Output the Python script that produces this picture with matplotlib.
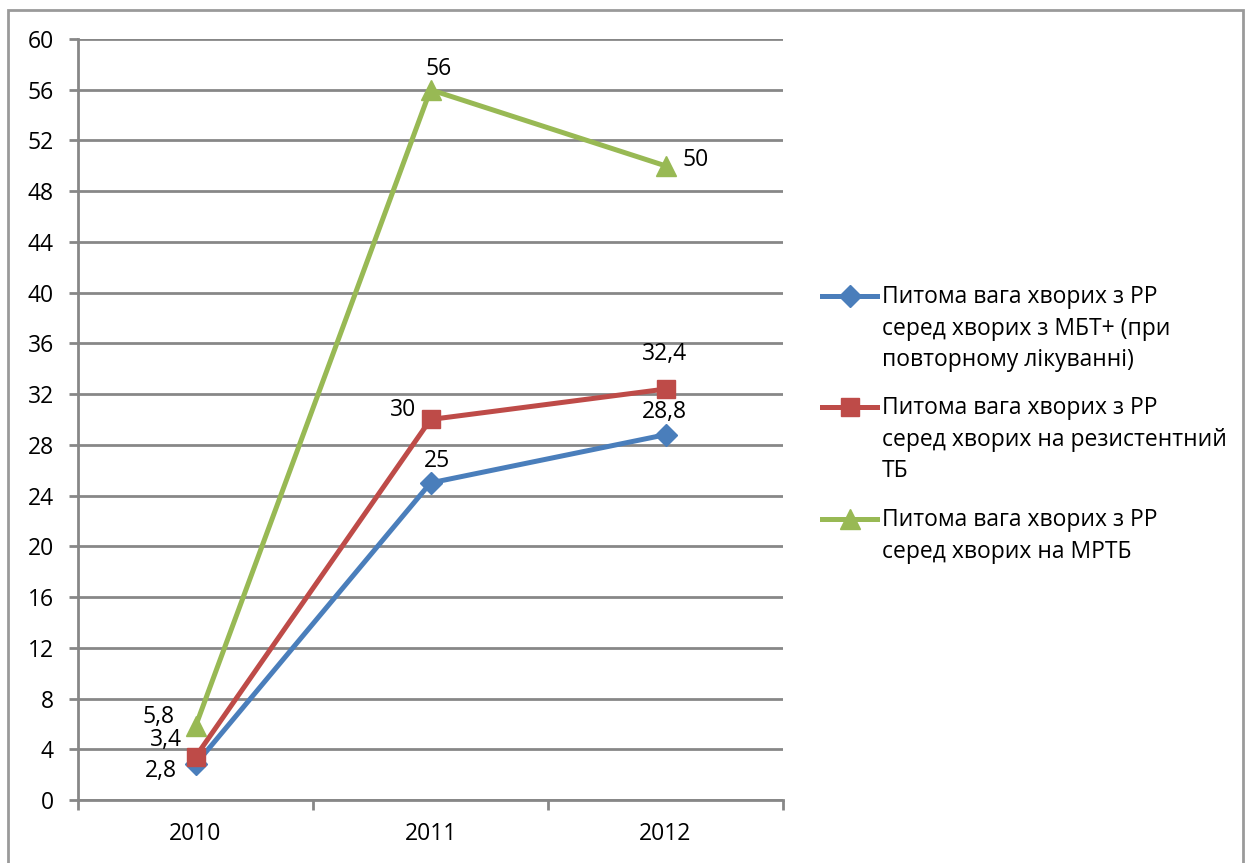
import matplotlib

matplotlib.use("Agg")
import matplotlib.pyplot as plt
from matplotlib.lines import Line2D
from matplotlib.patches import Rectangle

plt.rcParams["font.family"] = ["Open Sans", "DejaVu Sans"]

years = ["2010", "2011", "2012"]
mbt_plus = [2.8, 25, 28.8]
resistant = [3.4, 30, 32.4]
mdr = [5.8, 56, 50]
labels_mbt = ["2,8", "25", "28,8"]
labels_res = ["3,4", "30", "32,4"]
labels_mdr = ["5,8", "56", "50"]
legend_labels = [
    "Питома вага хворих з РР\nсеред хворих з МБТ+ (при\nповторному лікуванні)",
    "Питома вага хворих з РР\nсеред хворих на резистентний\nТБ",
    "Питома вага хворих з РР\nсеред хворих на МРТБ",
]

_BLUE = "#4a7ebb"
_RED = "#be4b48"
_GREEN = "#98b954"
_GRID = "#878787"
_FS = 16.5

W, H = 1247, 863
fig = plt.figure(figsize=(W / 100, H / 100), dpi=100, facecolor="white")
ax = fig.add_axes([78 / W, 63 / H, 705 / W, 761 / H])

x = range(len(years))
series = [
    (mbt_plus, labels_mbt, _BLUE, "D", 11, [(-25, -5), (5, 16), (-1, 16)]),
    (resistant, labels_res, _RED, "s", 13, [(-21, 12), (-20, 7), (-1, 25)]),
    (mdr, labels_mdr, _GREEN, "^", 14, [(-27, 7), (6, 15), (22, 4)]),
]
for vals, labs, col, mk, ms, offs in series:
    ax.plot(x, vals, color=col, lw=3.6, marker=mk, ms=ms, mec=col, mfc=col, zorder=3)
    for xi, v, lab, off in zip(x, vals, labs, offs):
        ax.annotate(lab, (xi, v), xytext=off, textcoords="offset points",
                    ha="center", va="center", fontsize=_FS, zorder=4)

ax.set_xlim(-0.5, 2.5)
ax.set_ylim(0, 60)
ax.set_yticks(range(0, 61, 4))
ax.set_xticks(list(x))
ax.set_xticklabels(years)
ax.set_xticks([-0.5, 0.5, 1.5, 2.5], minor=True)
ax.tick_params(axis="x", which="major", length=0, pad=16, labelsize=_FS)
ax.tick_params(axis="x", which="minor", length=7, width=2, color=_GRID)
ax.tick_params(axis="y", length=6.5, width=2, color=_GRID, pad=11, labelsize=_FS)
ax.grid(axis="y", color=_GRID, lw=2)
ax.set_axisbelow(True)
for side in ("top", "right"):
    ax.spines[side].set_visible(False)
for side in ("left", "bottom"):
    ax.spines[side].set_color(_GRID)
    ax.spines[side].set_linewidth(2)

# legend drawn by hand so the key sits on the first line of each label
legend_rows = [296, 407, 519]
for (vals, labs, col, mk, ms, offs), label, ypx in zip(series, legend_labels, legend_rows):
    yf = 1 - ypx / H
    fig.add_artist(Line2D([822 / W, 877 / W], [yf, yf], color=col, lw=3.6,
                          transform=fig.transFigure))
    fig.add_artist(Line2D([849.5 / W], [yf], color=col, marker=mk, ms=ms,
                          mec=col, mfc=col, transform=fig.transFigure))
    fig.text(882 / W, 1 - (ypx - 11) / H, label, fontsize=_FS, ha="left", va="top",
             linespacing=1.42, transform=fig.transFigure)

fig.add_artist(Rectangle((8 / W, -0.01), 1 - 12 / W, 1 - 10 / H + 0.01,
                         transform=fig.transFigure, fill=False,
                         edgecolor="#9a9a9a", lw=2))

fig.savefig("out.png", dpi=100, facecolor="white")
plt.close(fig)
